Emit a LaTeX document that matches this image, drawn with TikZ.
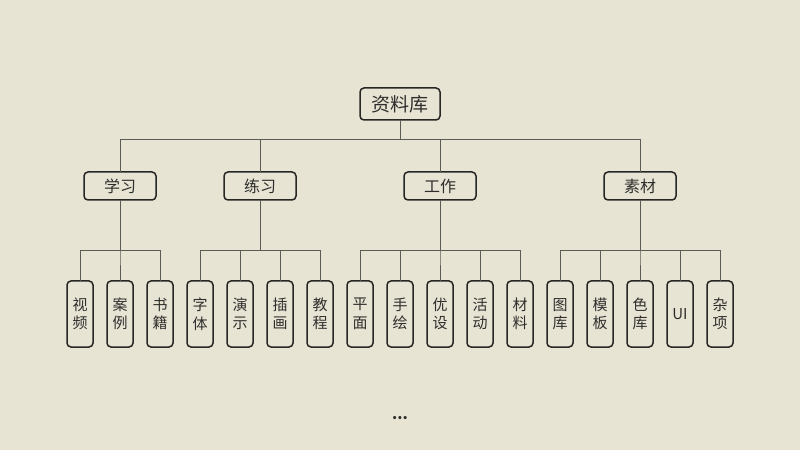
\documentclass[tikz,border=0pt]{standalone}
\usepackage{fontspec}
\setmainfont{Noto Sans CJK SC}
\usetikzlibrary{positioning}
\definecolor{paper}{HTML}{E8E4D4}
\definecolor{boxline}{HTML}{262624}
\definecolor{wire}{HTML}{5A5A56}
\definecolor{ink}{HTML}{2E2E2C}

\begin{document}
\begin{tikzpicture}[
      x=1pt, y=1pt,
      node distance=14pt,
      box/.style={draw=boxline, line width=1.5pt, rounded corners=4pt, outer sep=0pt, text=ink},
      root/.style={box, minimum width=80pt, minimum height=32pt, font=\fontsize{19}{22}\selectfont},
      group/.style={box, minimum width=72pt, minimum height=28pt, font=\fontsize{16}{19}\selectfont},
      leaf/.style={box, minimum width=26pt, minimum height=66pt, inner sep=1pt, align=center, font=\fontsize{15}{18.5}\selectfont},
      link/.style={draw=wire, line width=0.8pt}
    ]

    \fill[paper] (0,0) rectangle (800,450);
    \useasboundingbox (0,0) rectangle (800,450);

    % root and groups
    \node[root] (ziliao) at (400,346) {资料库};
    \node[group] (xuexi) at (120,264) {学习};
    \node[group] (lianxi) at (260,264) {练习};
    \node[group] (gongzuo) at (440,264) {工作};
    \node[group] (sucai) at (640,264) {素材};

    % leaves
    \node[leaf] (shipin) at (80,136) {视\\频};
    \node[leaf, right=of shipin] (anli) {案\\例};
    \node[leaf, right=of anli] (shuji) {书\\籍};
    \node[leaf, right=of shuji] (ziti) {字\\体};
    \node[leaf, right=of ziti] (yanshi) {演\\示};
    \node[leaf, right=of yanshi] (chahua) {插\\画};
    \node[leaf, right=of chahua] (jiaocheng) {教\\程};
    \node[leaf, right=of jiaocheng] (pingmian) {平\\面};
    \node[leaf, right=of pingmian] (shouhui) {手\\绘};
    \node[leaf, right=of shouhui] (youshe) {优\\设};
    \node[leaf, right=of youshe] (huodong) {活\\动};
    \node[leaf, right=of huodong] (cailiao) {材\\料};
    \node[leaf, right=of cailiao] (tuku) {图\\库};
    \node[leaf, right=of tuku] (muban) {模\\板};
    \node[leaf, right=of muban] (seku) {色\\库};
    \node[leaf, right=of seku] (ui) {UI};
    \node[leaf, right=of ui] (zaxiang) {杂\\项};

    \node[text=ink, font=\fontsize{15}{17}\bfseries] (more) at (400,32) {...};

    % root -> groups
    \draw[link] (ziliao.south) -- ++(0,-19.5) -| (xuexi.north);
    \draw[link] (ziliao.south) -- ++(0,-19.5) -| (lianxi.north);
    \draw[link] (ziliao.south) -- ++(0,-19.5) -| (gongzuo.north);
    \draw[link] (ziliao.south) -- ++(0,-19.5) -| (sucai.north);

    % groups -> leaves
    \draw[link] (xuexi.south) -- ++(0,-50) -| (shipin.north);
    \draw[link] (xuexi.south) -- ++(0,-50) -| (anli.north);
    \draw[link] (xuexi.south) -- ++(0,-50) -| (shuji.north);

    \draw[link] (lianxi.south) -- ++(0,-50) -| (ziti.north);
    \draw[link] (lianxi.south) -- ++(0,-50) -| (yanshi.north);
    \draw[link] (lianxi.south) -- ++(0,-50) -| (chahua.north);
    \draw[link] (lianxi.south) -- ++(0,-50) -| (jiaocheng.north);

    \draw[link] (gongzuo.south) -- ++(0,-50) -| (pingmian.north);
    \draw[link] (gongzuo.south) -- ++(0,-50) -| (shouhui.north);
    \draw[link] (gongzuo.south) -- ++(0,-50) -| (youshe.north);
    \draw[link] (gongzuo.south) -- ++(0,-50) -| (huodong.north);
    \draw[link] (gongzuo.south) -- ++(0,-50) -| (cailiao.north);

    \draw[link] (sucai.south) -- ++(0,-50) -| (tuku.north);
    \draw[link] (sucai.south) -- ++(0,-50) -| (muban.north);
    \draw[link] (sucai.south) -- ++(0,-50) -| (seku.north);
    \draw[link] (sucai.south) -- ++(0,-50) -| (ui.north);
    \draw[link] (sucai.south) -- ++(0,-50) -| (zaxiang.north);

  \end{tikzpicture}
\end{document}
